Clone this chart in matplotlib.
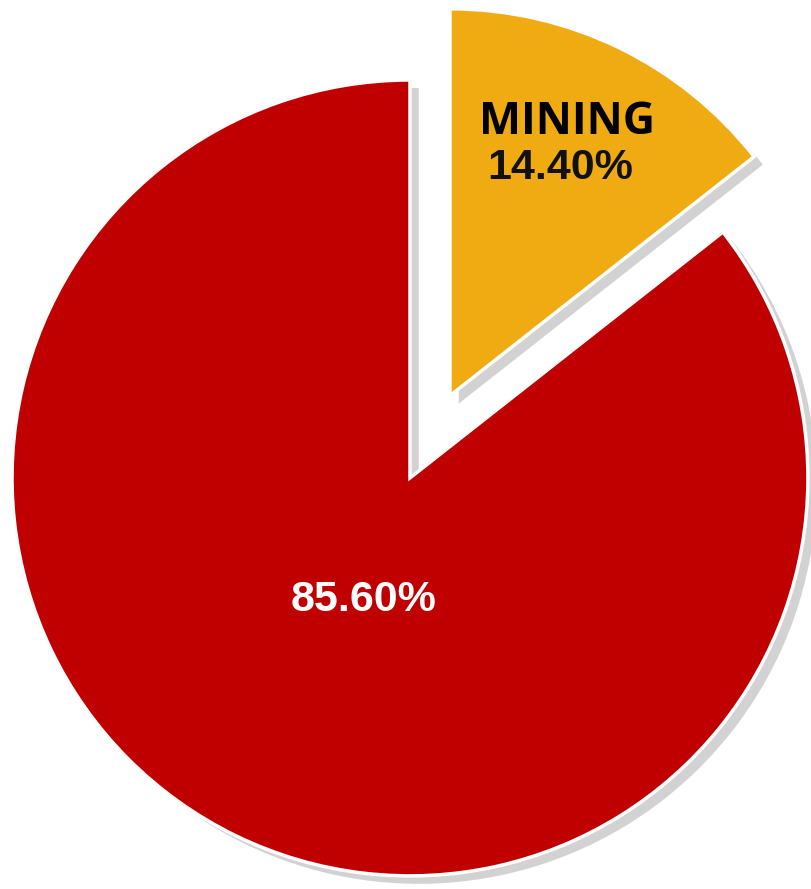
import matplotlib.pyplot as plt

# slice data (clockwise from 12 o'clock)
labels = ["MINING", "OTHER"]
shares = [14.40, 85.60]
colors = ["#F0AA12", "#C00000"]
explode = [0.23, 0.0]

fig = plt.figure(figsize=(8.12, 8.89), dpi=100)
ax = fig.add_axes([0, 0, 1, 1])
ax.set_aspect("equal")
ax.axis("off")

# soft gray drop shadow behind the pie
shadow, _ = ax.pie(shares, explode=explode, startangle=90, counterclock=False,
                   colors=["#D2D2D2"] * 2, center=(0.022, -0.02),
                   wedgeprops=dict(linewidth=0))

wedges, _ = ax.pie(shares, explode=explode, startangle=90, counterclock=False,
                   colors=colors,
                   wedgeprops=dict(edgecolor="white", linewidth=2.5))

# the pulled-out slice is drawn a touch smaller
wedges[0].set_radius(0.972)
shadow[0].set_radius(0.972)

ax.text(0.394, 0.894, "MINING", ha="center", va="center",
        fontsize=32, fontweight="bold", family="Open Sans", color="black")
ax.text(0.377, 0.779, "%.2f%%" % shares[0], ha="center", va="center",
        fontsize=31, fontweight="bold", family="Liberation Sans", color="#111111")
ax.text(-0.116, -0.307, "%.2f%%" % shares[1], ha="center", va="center",
        fontsize=31, fontweight="bold", family="Liberation Sans", color="white")

ax.set_xlim(-1.030, 1.010)
ax.set_ylim(-1.033, 1.201)

fig.savefig("out.png", dpi=100)
